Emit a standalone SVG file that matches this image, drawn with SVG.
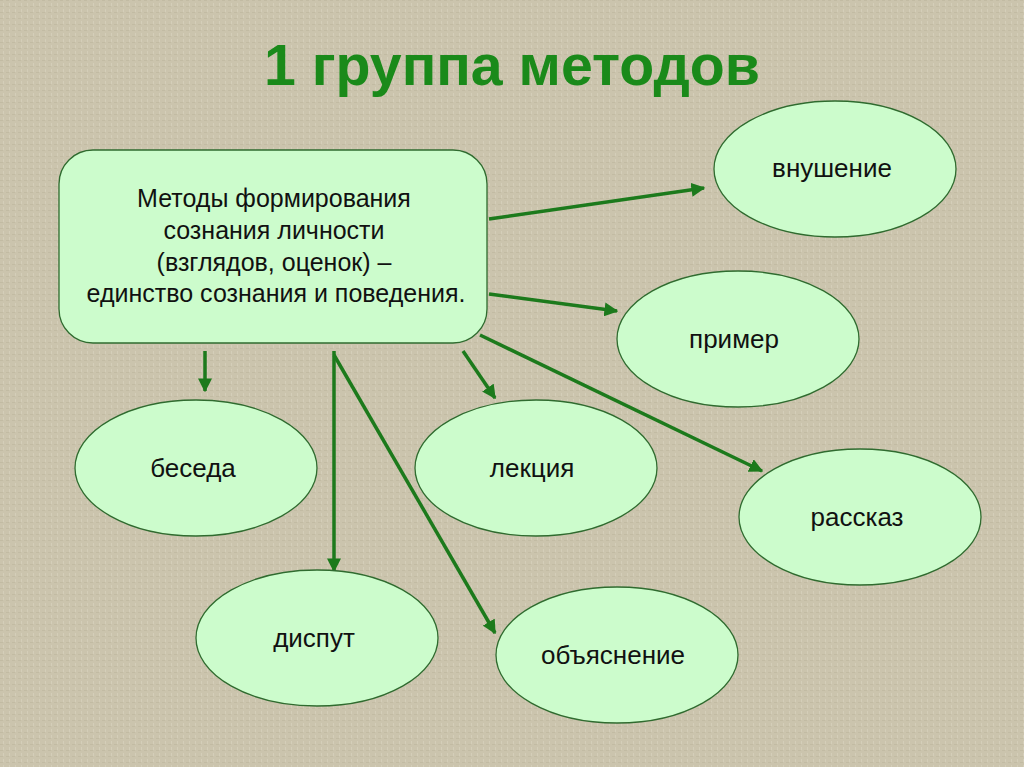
<svg xmlns="http://www.w3.org/2000/svg" width="1024" height="767" viewBox="0 0 1024 767">
<defs>
<style>
.node{fill:#ccfccc;stroke:#2f6b2f;stroke-width:1.3}
.lbl{font-family:"Liberation Sans",Arial,sans-serif;font-size:26px;fill:#111;text-anchor:middle}
.box{font-size:25px}
.edge{stroke:#1c7a1c;stroke-width:3.5;fill:none;marker-end:url(#ah)}
</style>
<marker id="ah" viewBox="0 0 10 10" refX="9" refY="5" markerWidth="4" markerHeight="4" orient="auto" markerUnits="strokeWidth">
<path d="M0,0 L10,5 L0,10 Z" fill="#1c7a1c"/>
</marker>
<pattern id="tex" width="6" height="6" patternUnits="userSpaceOnUse">
<rect width="6" height="6" fill="#cbc4ad"/>
<rect width="3" height="1" fill="#c2bba3"/>
<rect x="3" y="3" width="1" height="3" fill="#d4ceb9"/>
</pattern>
</defs>
<rect width="1024" height="767" fill="url(#tex)"/>
<text x="512" y="85" font-family="'Liberation Sans',Arial,sans-serif" font-weight="bold" font-size="58" fill="#1a8a1a" text-anchor="middle" textLength="496" lengthAdjust="spacingAndGlyphs">1 группа методов</text>

<g id="connectors">
<line class="edge" x1="489" y1="219" x2="704" y2="188"/>
<line class="edge" x1="489" y1="294" x2="617" y2="311"/>
<line class="edge" x1="205" y1="351" x2="205" y2="391"/>
<line class="edge" x1="334" y1="351" x2="334" y2="571"/>
<line class="edge" x1="334" y1="355" x2="495" y2="633"/>
<line class="edge" x1="463" y1="351" x2="495" y2="398"/>
<line class="edge" x1="480" y1="335" x2="762" y2="471"/>
</g>

<g id="main">
<rect class="node" x="59" y="150" width="428" height="193" rx="34"/>
<text class="lbl box" x="274" y="207">Методы формирования</text>
<text class="lbl box" x="274" y="239">сознания личности</text>
<text class="lbl box" x="274" y="271">(взглядов, оценок) –</text>
<text class="lbl box" x="276" y="302">единство сознания и поведения.</text>
</g>
<g id="vnushenie"><ellipse class="node" cx="835" cy="169" rx="121" ry="68"/><text class="lbl" x="832" y="177">внушение</text></g>
<g id="primer"><ellipse class="node" cx="738" cy="339" rx="121" ry="68"/><text class="lbl" x="734" y="348">пример</text></g>
<g id="beseda"><ellipse class="node" cx="196" cy="468" rx="121" ry="68"/><text class="lbl" x="193" y="477">беседа</text></g>
<g id="lekciya"><ellipse class="node" cx="536" cy="468" rx="121" ry="68"/><text class="lbl" x="532" y="477">лекция</text></g>
<g id="rasskaz"><ellipse class="node" cx="860" cy="517" rx="121" ry="68"/><text class="lbl" x="857" y="526">рассказ</text></g>
<g id="disput"><ellipse class="node" cx="317" cy="638" rx="121" ry="68"/><text class="lbl" x="314" y="647">диспут</text></g>
<g id="obyasnenie"><ellipse class="node" cx="617" cy="655" rx="121" ry="68"/><text class="lbl" x="613" y="664">объяснение</text></g>
</svg>
